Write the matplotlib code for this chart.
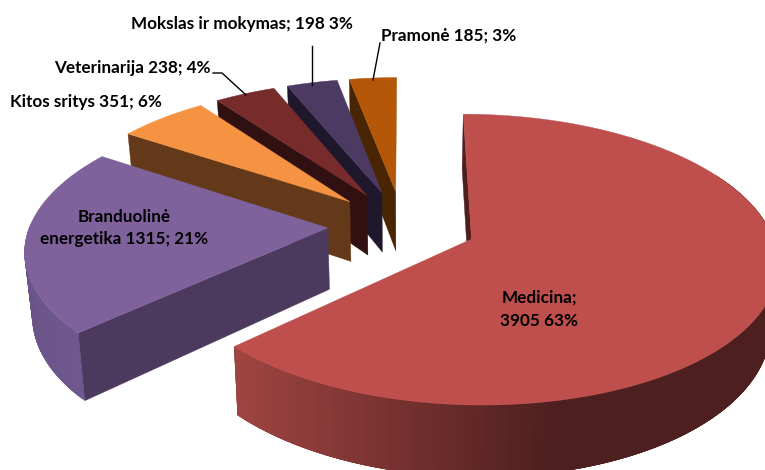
import numpy as np
import matplotlib
matplotlib.use("Agg")
import matplotlib.pyplot as plt
from matplotlib import rcParams
from matplotlib.colors import to_rgb

rcParams["font.family"] = ["Lato", "DejaVu Sans"]
rcParams["font.weight"] = "bold"

names = ["Medicina", "Branduolinė energetika", "Kitos sritys", "Veterinarija",
         "Mokslas ir mokymas", "Pramonė"]
values = [3905, 1315, 351, 238, 198, 185]
tops = ["#BE4F4C", "#7F629C", "#F59342", "#772B2B", "#4D3A62", "#B45708"]
walls = ["#4D1F1E", "#4B3A5E", "#63391A", "#301010", "#1F172B", "#4A2503"]

values = np.array(values, dtype=float)
edges = np.concatenate([[0], np.cumsum(values) / values.sum() * 360])

# projection of the tilted pie, tuned by eye against the picture
X0, Y0 = 405, 239
A, B, K = 302, 142.5, 0.141
CX, CY, EXPLODE = -0.009, 0.099, 0.25
DEPTH, SHRINK = 62, 0.98


def top_xy(X, Y):
    s = 1 / (1 + K * Y)
    return X0 + A * X * s, Y0 - B * Y * s


def low_xy(X, Y):
    px, py = top_xy(X, Y)
    s = 1 / (1 + K * Y)
    return X0 + (px - X0) * SHRINK, py + DEPTH * s


fig = plt.figure(figsize=(7.65, 4.7), dpi=100)
ax = fig.add_axes([0, 0, 1, 1])
ax.set_xlim(0, 765)
ax.set_ylim(470, 0)
ax.axis("off")

# back slices first, Medicina last
for i in range(len(values) - 1, -1, -1):
    a0, a1 = np.radians(edges[i]), np.radians(edges[i + 1])
    mid = (a0 + a1) / 2
    ox = CX + EXPLODE * np.sin(mid)
    oy = CY + EXPLODE * np.cos(mid)
    t = np.linspace(a0, a1, 160)
    X = ox + np.sin(t)
    Y = oy + np.cos(t)
    tx, ty = top_xy(X, Y)
    bx, by = low_xy(X, Y)

    # outer rim, only the two front slices show it; each quad overlaps the next
    if i < 2:
        for j in range(len(t) - 1):
            if np.degrees(t[j]) > 270 and i == 1 or np.degrees(t[j]) < 60 and i == 0:
                continue
            k = min(j + 4, len(t) - 1)
            if i == 0:
                f = np.clip((tx[j] - 233) / (560 - 233), 0, 1)
                c = (1 - f) * np.array(to_rgb("#A04542")) + f * np.array(to_rgb("#4D1F1E"))
            else:
                f = np.clip((tx[j] - 24) / 100, 0, 1)
                c = (1 - f) * np.array(to_rgb("#6A5487")) + f * np.array(to_rgb("#735C96"))
            qx = np.r_[tx[j:k + 1], bx[j:k + 1][::-1]]
            qy = np.r_[ty[j:k + 1], by[j:k + 1][::-1]]
            ax.fill(qx, qy, color=c, lw=0, zorder=i * -3 + 20)

    # cut face at the start angle
    ax_, ay_ = top_xy(ox, oy)
    lx_, ly_ = low_xy(ox, oy)
    ax.fill([tx[0], ax_, lx_, bx[0]], [ty[0], ay_, ly_, by[0]],
            color=walls[i], lw=0.3, zorder=i * -3 + 21)

    # top face
    ax.fill(np.r_[ax_, tx], np.r_[ay_, ty], color=tops[i], lw=0.3, zorder=i * -3 + 22)

txt = dict(fontsize=12.3, ha="center", va="center", color="black", zorder=40)
ax.text(241.5, 24, "Mokslas ir mokymas; 198 3%", **txt)
ax.text(448.5, 36, "Pramonė 185; 3%", **txt)
ax.text(132, 68, "Veterinarija 238; 4%", **txt)
ax.text(86, 102, "Kitos sritys 351; 6%", **txt)
ax.text(124, 217, "Branduolinė", **txt)
ax.text(124, 239, "energetika 1315; 21%", **txt)
ax.text(539, 298, "Medicina;", **txt)
ax.text(539, 321, "3905 63%", **txt)

ax.plot([380, 373], [43, 80], color="black", lw=1, zorder=30)
ax.plot([312, 312], [46, 85], color="black", lw=1, zorder=30)
ax.plot([213, 222, 246], [73, 73, 95], color="black", lw=1, zorder=30)

fig.savefig("out.png", dpi=100)
plt.close(fig)
